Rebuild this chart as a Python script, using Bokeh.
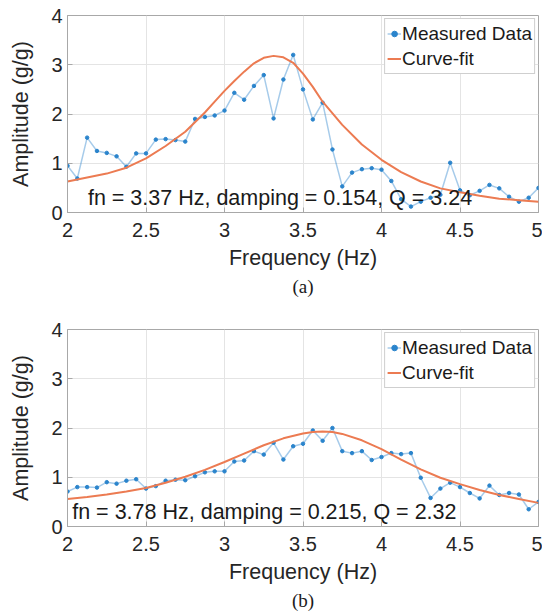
from bokeh.plotting import figure
from bokeh.layouts import column
from bokeh.models import Label, Title, FixedTicker
from bokeh.embed import file_html
from bokeh.resources import INLINE

# ---------------- data ----------------
freq = [2.0 + i * 0.0625 for i in range(49)]

meas_a = [0.95, 0.69, 1.52, 1.25, 1.21, 1.14, 0.93, 1.20, 1.20, 1.48,
          1.49, 1.47, 1.44, 1.90, 1.94, 1.97, 2.07, 2.43, 2.29, 2.57,
          2.79, 1.91, 2.70, 3.20, 2.50, 1.89, 2.23, 1.28, 0.53, 0.81,
          0.88, 0.90, 0.87, 0.64, 0.27, 0.12, 0.22, 0.30, 0.36, 1.01,
          0.45, 0.35, 0.44, 0.56, 0.49, 0.32, 0.22, 0.30, 0.50]

meas_b = [0.71, 0.80, 0.80, 0.79, 0.90, 0.87, 0.93, 0.96, 0.77, 0.82,
          0.93, 0.95, 0.94, 1.02, 1.10, 1.12, 1.12, 1.32, 1.34, 1.53,
          1.46, 1.70, 1.36, 1.63, 1.68, 1.95, 1.74, 2.00, 1.53, 1.49,
          1.53, 1.35, 1.41, 1.49, 1.47, 1.49, 0.99, 0.58, 0.77, 0.89,
          0.80, 0.68, 0.57, 0.83, 0.64, 0.68, 0.65, 0.35, 0.50]

fit_a_f = [2.0, 2.125, 2.25, 2.375, 2.5, 2.625, 2.75, 2.875, 2.9375, 3.0,
           3.0625, 3.125, 3.1875, 3.25, 3.3125, 3.375, 3.4375, 3.5, 3.5625,
           3.625, 3.75, 3.875, 4.0, 4.125, 4.25, 4.375, 4.5, 4.625, 4.75,
           4.875, 5.0]
fit_a = [0.63, 0.71, 0.79, 0.91, 1.10, 1.35, 1.64, 2.03, 2.25, 2.47,
         2.67, 2.86, 3.03, 3.14, 3.18, 3.15, 3.04, 2.82, 2.55,
         2.25, 1.78, 1.38, 1.07, 0.82, 0.63, 0.49, 0.41, 0.34, 0.28,
         0.25, 0.22]

fit_b_f = [2.0, 2.125, 2.25, 2.375, 2.5, 2.625, 2.75, 2.875, 3.0, 3.125,
           3.25, 3.375, 3.5, 3.5625, 3.625, 3.6875, 3.75, 3.875, 4.0, 4.125,
           4.25, 4.375, 4.5, 4.625, 4.75, 4.875, 5.0]
fit_b = [0.56, 0.60, 0.65, 0.71, 0.78, 0.89, 1.01, 1.15, 1.31, 1.48,
         1.65, 1.79, 1.89, 1.92, 1.93, 1.92, 1.88, 1.75, 1.57, 1.36,
         1.16, 0.99, 0.86, 0.74, 0.64, 0.56, 0.48]

x_ticks = [2, 2.5, 3, 3.5, 4, 4.5, 5]
x_tick_labels = ["2", "2.5", "3", "3.5", "4", "4.5", "5"]
y_ticks = [0, 1, 2, 3, 4]

annot_a = "fn = 3.37 Hz, damping = 0.154, Q = 3.24"
annot_b = "fn = 3.78 Hz, damping = 0.215, Q = 2.32"

SANS = "Liberation Sans"
TXT = "#262626"
BLUE = "#2a84cc"
ORANGE = "#ec7b52"


def panel(meas, ff, fit, annot, ann_x, caption, height, bottom, title_standoff):
    p = figure(width=542, height=height, x_range=(2, 5), y_range=(0, 4),
               output_backend="svg", toolbar_location=None,
               min_border_left=67, min_border_right=4, min_border_top=15,
               min_border_bottom=bottom)
    p.background_fill_color = "white"
    p.border_fill_color = "white"
    p.outline_line_color = "#a8a8a8"
    p.outline_line_width = 1

    p.line(freq, meas, line_color=BLUE, line_alpha=0.42, line_width=1.5,
           legend_label="Measured Data")
    p.scatter(freq, meas, size=3.5, fill_color=BLUE, line_color=BLUE,
              legend_label="Measured Data")
    p.line(ff, fit, line_color=ORANGE, line_width=2, legend_label="Curve-fit")

    p.add_layout(Label(x=ann_x, y=0.3, text=annot, text_baseline="middle",
                       text_font=SANS, text_font_size="21.5px",
                       text_color="#1a1a1a"))

    p.xaxis.ticker = FixedTicker(ticks=x_ticks)
    p.xaxis.major_label_overrides = {t: l for t, l in zip(x_ticks, x_tick_labels)}
    p.yaxis.ticker = FixedTicker(ticks=y_ticks)
    p.xaxis.axis_label = "Frequency (Hz)"
    p.yaxis.axis_label = "Amplitude (g/g)"
    for ax in (p.xaxis, p.yaxis):
        ax.axis_line_color = "#a8a8a8"
        ax.major_tick_line_color = "#a8a8a8"
        ax.major_tick_in = 5
        ax.major_tick_out = 0
        ax.minor_tick_line_color = None
        ax.major_label_text_font = SANS
        ax.major_label_text_font_size = "20px"
        ax.major_label_text_color = TXT
        ax.axis_label_text_font = SANS
        ax.axis_label_text_font_size = "21.5px"
        ax.axis_label_text_font_style = "normal"
        ax.axis_label_text_color = TXT
    p.xaxis.major_label_standoff = 10
    p.xaxis.axis_label_standoff = 6
    p.yaxis.major_label_standoff = 5
    p.yaxis.axis_label_standoff = 15

    p.grid.grid_line_color = "#e4e4e4"
    p.grid.grid_line_width = 1

    lg = p.legend[0]
    lg.location = "top_right"
    lg.margin = 3
    lg.padding = 2
    lg.spacing = 0
    lg.glyph_width = 14
    lg.glyph_height = 25
    lg.label_height = 25
    lg.label_standoff = 1
    lg.label_text_font = SANS
    lg.label_text_font_size = "19px"
    lg.label_text_color = "#1a1a1a"
    lg.border_line_color = "#a0a0a0"
    lg.border_line_width = 1
    lg.background_fill_alpha = 1

    p.add_layout(Title(text=caption, align="center", text_font="Liberation Serif",
                       text_font_size="19px", text_font_style="normal",
                       text_color="#1a1a1a", standoff=title_standoff), "below")
    return p


p1 = panel(meas_a, fit_a_f, fit_a, annot_a, 2.13, "(a)", 314, 102, 2)
p2 = panel(meas_b, fit_b_f, fit_b, annot_b, 2.03, "(b)", 299, 87, 2)

layout = column(p1, p2, spacing=0)
open("out.html", "w").write(file_html(layout, INLINE))
